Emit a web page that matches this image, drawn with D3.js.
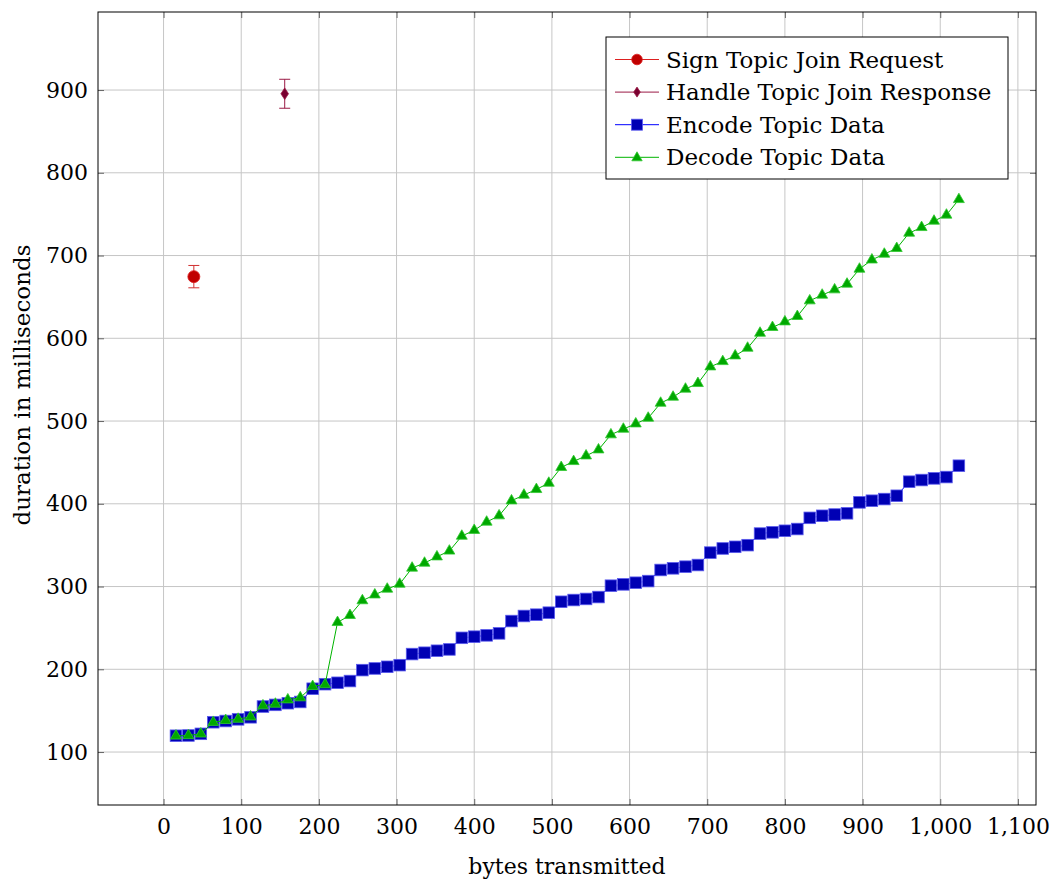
<!DOCTYPE html>
<html>
<head>
<meta charset="utf-8">
<script src="https://cdn.jsdelivr.net/npm/d3@7"></script>
<style>
body { margin: 0; background: #fff; }
text { font-family: "DejaVu Serif", serif; fill: #000; }
</style>
</head>
<body>
<svg id="chart" width="1052" height="882"></svg>
<script>
// bytes transmitted (x) for the encode / decode runs
var bytesSent = [16, 32, 48, 64, 80, 96, 112, 128, 144, 160, 176, 192, 208, 224, 240, 256,
    272, 288, 304, 320, 336, 352, 368, 384, 400, 416, 432, 448, 464, 480, 496, 512,
    528, 544, 560, 576, 592, 608, 624, 640, 656, 672, 688, 704, 720, 736, 752, 768,
    784, 800, 816, 832, 848, 864, 880, 896, 912, 928, 944, 960, 976, 992, 1008, 1024];

var encodeMs = [119.7, 120, 122, 136, 137.5, 139.5, 142, 155, 157, 159, 160.5, 176.5, 182, 183.7, 185.8, 199,
    201, 203, 205, 218.4, 220, 222.4, 224, 238, 239.4, 241, 243.4, 258.3, 264.4, 266, 268.4, 281.6,
    283.7, 285, 287.3, 301, 302.6, 304.6, 306.6, 320, 322, 324, 326, 341, 346, 348, 350, 364,
    365.5, 367.4, 369.5, 383, 385.5, 387, 388.5, 401.7, 403.7, 405.7, 409.7, 426.7, 428.7, 430.7, 432.3, 446];

var decodeMs = [119.5, 120, 122, 136, 138.3, 139.8, 142.6, 156, 158, 163.2, 165.7, 179.4, 181.5, 256.7, 265.2, 283,
    290, 297, 303, 322.4, 328.4, 336, 343, 361, 368, 378, 385.6, 403.7, 410.6, 417.4, 425, 444,
    451.2, 458, 465.3, 483.5, 490.3, 496.7, 503.6, 521.7, 529, 538.7, 545.5, 565.6, 572, 578.9, 588.2, 606.3,
    613.2, 620, 626.5, 645.4, 652.3, 658.7, 665.6, 683.7, 694.8, 701.8, 708.7, 727.2, 734, 741.7, 749, 767.8];

// single measurements with error bars
var signBytes = [39], signMs = [674.5], signErr = [13.5];
var handleBytes = [156], handleMs = [895.5], handleErr = [17.5];

var xTicks = [0, 100, 200, 300, 400, 500, 600, 700, 800, 900, 1000, 1100];
var yTicks = [100, 200, 300, 400, 500, 600, 700, 800, 900];

var legendLabels = ["Sign Topic Join Request", "Handle Topic Join Response", "Encode Topic Data", "Decode Topic Data"];

var svg = d3.select("#chart");
var plotLeft = 98, plotRight = 1036, plotTop = 12, plotBottom = 805;

var x = d3.scaleLinear().domain([-84.4, 1123.3]).range([plotLeft, plotRight]);
var y = d3.scaleLinear().domain([36, 994.3]).range([plotBottom, plotTop]);

// grid
var grid = svg.append("g").attr("stroke", "#c6c6c6").attr("stroke-width", 1);
grid.selectAll(".gx").data(xTicks).enter().append("line")
    .attr("x1", function (d) { return x(d) }).attr("x2", function (d) { return x(d) })
    .attr("y1", plotTop).attr("y2", plotBottom);
grid.selectAll(".gy").data(yTicks).enter().append("line")
    .attr("y1", function (d) { return y(d) }).attr("y2", function (d) { return y(d) })
    .attr("x1", plotLeft).attr("x2", plotRight);

// axes (ticks point inward, like pgfplots)
var fontSize = 22;
var bottomAxis = svg.append("g").attr("transform", "translate(0," + plotBottom + ")")
    .call(d3.axisBottom(x).tickValues(xTicks).tickFormat(d3.format(",")).tickSizeInner(-6).tickSizeOuter(0).tickPadding(13));
var leftAxis = svg.append("g").attr("transform", "translate(" + plotLeft + ",0)")
    .call(d3.axisLeft(y).tickValues(yTicks).tickSizeInner(-6).tickSizeOuter(0).tickPadding(10));
var topAxis = svg.append("g").attr("transform", "translate(0," + plotTop + ")")
    .call(d3.axisTop(x).tickValues(xTicks).tickFormat("").tickSizeInner(-6).tickSizeOuter(0));
var rightAxis = svg.append("g").attr("transform", "translate(" + plotRight + ",0)")
    .call(d3.axisRight(y).tickValues(yTicks).tickFormat("").tickSizeInner(-6).tickSizeOuter(0));

[bottomAxis, leftAxis, topAxis, rightAxis].forEach(function (a) {
    a.select(".domain").remove();
    a.selectAll(".tick line").attr("stroke", "#666");
    a.selectAll("text").style("font-family", "DejaVu Serif").style("font-size", fontSize + "px").attr("fill", "#000");
});

// series lines
var line = d3.line().x(function (d) { return x(d[0]) }).y(function (d) { return y(d[1]) });
var encodeData = d3.zip(bytesSent, encodeMs);
var decodeData = d3.zip(bytesSent, decodeMs);

function trianglePath(r) {
    return "M0," + (-r) + "L" + (r * 0.866) + "," + (r / 2) + "L" + (-r * 0.866) + "," + (r / 2) + "Z";
}
function diamondPath(w, h) {
    return "M0," + (-h) + "L" + w + ",0L0," + h + "L" + (-w) + ",0Z";
}

svg.append("path").datum(encodeData).attr("d", line)
    .attr("fill", "none").attr("stroke", "#0000ff").attr("stroke-width", 1);
svg.append("g").selectAll("rect").data(encodeData).enter().append("rect")
    .attr("x", function (d) { return x(d[0]) - 5.8 })
    .attr("y", function (d) { return y(d[1]) - 5.8 })
    .attr("width", 11.6).attr("height", 11.6)
    .attr("fill", "#0000b4").attr("stroke", "#5a5aee").attr("stroke-width", 0.8);

svg.append("path").datum(decodeData).attr("d", line)
    .attr("fill", "none").attr("stroke", "#00b400").attr("stroke-width", 1);
svg.append("g").selectAll("path").data(decodeData).enter().append("path")
    .attr("transform", function (d) { return "translate(" + x(d[0]) + "," + y(d[1]) + ")" })
    .attr("d", trianglePath(6.3))
    .attr("fill", "#00a800").attr("stroke", "#30c830").attr("stroke-width", 0.8);

// error bars
function errorBars(xs, ys, es, color) {
    var g = svg.append("g").attr("stroke", color).attr("stroke-width", 1);
    var data = d3.zip(xs, ys, es);
    g.selectAll(".v").data(data).enter().append("line")
        .attr("x1", function (d) { return x(d[0]) }).attr("x2", function (d) { return x(d[0]) })
        .attr("y1", function (d) { return y(d[1] + d[2]) }).attr("y2", function (d) { return y(d[1] - d[2]) });
    [1, -1].forEach(function (s) {
        g.selectAll(".c" + s).data(data).enter().append("line")
            .attr("x1", function (d) { return x(d[0]) - 5.5 }).attr("x2", function (d) { return x(d[0]) + 5.5 })
            .attr("y1", function (d) { return y(d[1] + s * d[2]) }).attr("y2", function (d) { return y(d[1] + s * d[2]) });
    });
}
errorBars(signBytes, signMs, signErr, "#d03030");
errorBars(handleBytes, handleMs, handleErr, "#9a1a45");

svg.append("g").selectAll("circle").data(d3.zip(signBytes, signMs)).enter().append("circle")
    .attr("cx", function (d) { return x(d[0]) }).attr("cy", function (d) { return y(d[1]) })
    .attr("r", 6).attr("fill", "#c00000").attr("stroke", "#dd2020").attr("stroke-width", 0.8);
svg.append("g").selectAll("path").data(d3.zip(handleBytes, handleMs)).enter().append("path")
    .attr("transform", function (d) { return "translate(" + x(d[0]) + "," + y(d[1]) + ")" })
    .attr("d", diamondPath(3.8, 5.8))
    .attr("fill", "#7a0030").attr("stroke", "#9a1a45").attr("stroke-width", 0.8);

// frame
svg.append("rect").attr("x", plotLeft).attr("y", plotTop).attr("width", plotRight - plotLeft).attr("height", plotBottom - plotTop)
    .attr("fill", "none").attr("stroke", "#000").attr("stroke-width", 1);

// axis titles
svg.append("text").attr("x", (plotLeft + plotRight) / 2).attr("y", 866).attr("dy", "0.35em")
    .attr("text-anchor", "middle").style("font-size", fontSize + "px").text("bytes transmitted");
svg.append("text").attr("transform", "translate(22,385) rotate(-90)")
    .attr("dy", "0.35em").attr("text-anchor", "middle").style("font-size", "23px")
    .text("duration in milliseconds");

// legend
var legendColors = [["#dd2020", "#c00000"], ["#9a1a45", "#7a0030"], ["#0000ff", "#0000b4"], ["#00b400", "#00a800"]];
var legend = svg.append("g");
legend.append("rect").attr("x", 606).attr("y", 37).attr("width", 402).attr("height", 142)
    .attr("fill", "#fff").attr("stroke", "#000").attr("stroke-width", 1);
var rows = legend.selectAll(".row").data(legendLabels).enter().append("g")
    .attr("transform", function (d, i) { return "translate(0," + (59.5 + i * 32.6) + ")" });
rows.append("line").attr("x1", 615).attr("x2", 659).attr("y1", 0).attr("y2", 0)
    .attr("stroke", function (d, i) { return legendColors[i][0] }).attr("stroke-width", 1);
rows.each(function (d, i) {
    var r = d3.select(this);
    var c = legendColors[i];
    if (i === 0) r.append("circle").attr("cx", 637).attr("cy", 0).attr("r", 5.3).attr("fill", c[1]).attr("stroke", c[0]).attr("stroke-width", 0.8);
    if (i === 1) r.append("path").attr("transform", "translate(637,0)").attr("d", diamondPath(3.3, 5)).attr("fill", c[1]).attr("stroke", c[0]).attr("stroke-width", 0.8);
    if (i === 2) r.append("rect").attr("x", 631.5).attr("y", -5.5).attr("width", 11).attr("height", 11).attr("fill", c[1]).attr("stroke", "#5a5aee").attr("stroke-width", 0.8);
    if (i === 3) r.append("path").attr("transform", "translate(637,0.5)").attr("d", trianglePath(6)).attr("fill", c[1]).attr("stroke", "#30c830").attr("stroke-width", 0.8);
});
rows.append("text").attr("x", 666).attr("y", 0).attr("dy", "0.35em")
    .style("font-size", "23px").text(function (d) { return d });
</script>
</body>
</html>
